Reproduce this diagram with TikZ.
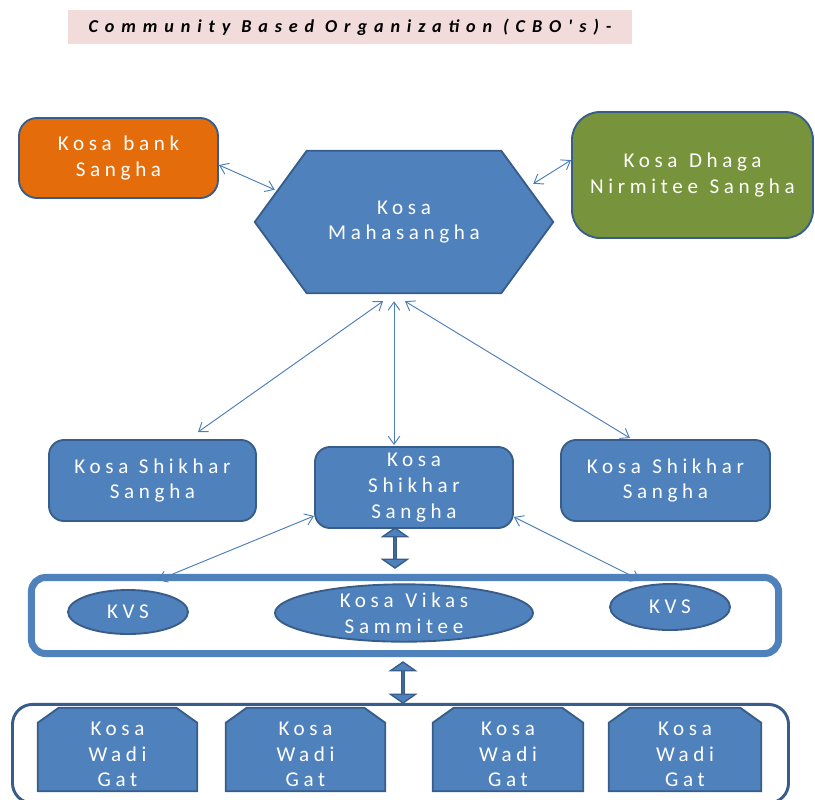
\documentclass[tikz,border=0pt]{standalone}
\usepackage{fontspec}
\setmainfont{Carlito}
\newfontfamily\boxfont[LetterSpace=22]{Carlito}
\newfontfamily\titlefont[LetterSpace=38]{Carlito Bold Italic}
\newcommand\boxstyle{\boxfont\fontsize{18}{22}\selectfont\spaceskip 0.55em\relax}
\newcommand\titlestyle{\titlefont\fontsize{15.5}{18}\selectfont}
\newcommand\wordgap{\hspace{0.6em}}
\usetikzlibrary{shapes.arrows,shapes.geometric,arrows.meta,calc,backgrounds}
\definecolor{cboblue}{HTML}{4F81BD}
\definecolor{cboedge}{HTML}{385D8A}
\definecolor{cboline}{HTML}{4A7EBB}
\definecolor{cboorange}{HTML}{E46C0A}
\definecolor{cbogreen}{HTML}{77933C}
\definecolor{cbopink}{HTML}{F2DCDB}

\begin{document}
\begin{tikzpicture}[x=0.03cm, y=-0.03cm,
    bluefill/.style={draw=cboedge, line width=1.6pt, fill=cboblue},
    boxtext/.style={text=white, align=center, inner sep=0pt, font=\boxstyle},
    box/.style={bluefill, boxtext},
    roundbox/.style={box, rectangle, rounded corners=0.45cm},
    kvs/.style={box, ellipse},
    wadi/.style={boxtext, minimum width=4.77cm, minimum height=2.49cm},
    link/.style={cboline, line width=0.8pt, {Straight Barb[length=7pt,width=10pt]}-{Straight Barb[length=7pt,width=10pt]}},
    bigarrow/.style={draw=cboedge, line width=1.2pt, fill=cboblue, double arrow, rotate=90, inner sep=0pt, minimum width=0.75cm, double arrow head extend=0.2cm, double arrow tip angle=110}]
    \useasboundingbox (0,0) rectangle (815,799);

    \node[fill=cbopink, minimum width=16.92cm, minimum height=1.02cm, inner sep=0pt, font=\titlestyle] (title) at (350,27) {Community\wordgap Based\wordgap Organization\wordgap (CBO's)-};

    \node[roundbox, fill=cboorange, minimum width=5.97cm, minimum height=2.4cm, rounded corners=0.54cm] (banksangha) at (118.5,158) {Kosa bank\\Sangha};
    \node[roundbox, fill=cbogreen, minimum width=7.23cm, minimum height=3.78cm, rounded corners=0.84cm] (dhagasangha) at (692.5,175) {Kosa Dhaga\\Nirmitee Sangha};
    \node[boxtext, minimum width=8.94cm, minimum height=4.26cm] (mahasangha) at (404,222) {Kosa\\Mahasangha};

    \node[roundbox, minimum width=6.21cm, minimum height=2.43cm] (shikharleft) at (152.5,480.5) {Kosa\enspace Shikhar\\Sangha};
    \node[roundbox, minimum width=5.94cm, minimum height=2.43cm] (shikharmid) at (414,487.5) {Kosa\\Shikhar\\Sangha};
    \node[roundbox, minimum width=6.27cm, minimum height=2.43cm] (shikharright) at (665.5,480.5) {Kosa Shikhar\\Sangha};

    \node[draw=cboblue, line width=6pt, rounded corners=0.42cm, minimum width=22.41cm, minimum height=2.28cm] (vikasband) at (405,615.5) {};
    \node[kvs, minimum width=3.6cm, minimum height=1.32cm] (kvsleft) at (128,612) {KVS};
    \node[kvs, minimum width=7.74cm, minimum height=1.68cm] (vikassammitee) at (404,613) {Kosa Vikas\\Sammitee};
    \node[kvs, minimum width=3.6cm, minimum height=1.38cm] (kvsright) at (670,607) {KVS};

    \node[draw=cboedge, line width=2.5pt, rounded corners=0.6cm, minimum width=23.28cm, minimum height=2.96cm] (gatband) at (400.5,753.75) {};
    \node[wadi] (gatone) at (117.5,754.5) {Kosa\\Wadi\\Gat};
    \node[wadi] (gattwo) at (305.5,754.5) {Kosa\\Wadi\\Gat};
    \node[wadi, minimum width=4.5cm] (gatthree) at (508,754.5) {Kosa\\Wadi\\Gat};
    \node[wadi, minimum width=4.56cm] (gatfour) at (685,754.5) {Kosa\\Wadi\\Gat};

    \begin{scope}[on background layer]
        \draw[bluefill] (mahasangha.west) -- ($(mahasangha.north west)+(52,0)$) -- ($(mahasangha.north east)+(-52,0)$) -- (mahasangha.east) -- ($(mahasangha.south east)+(-52,0)$) -- ($(mahasangha.south west)+(52,0)$) -- cycle;
        \foreach \gat in {gatone,gattwo,gatthree,gatfour}
            \draw[bluefill] ($(\gat.south west)+(0,-5)$) -- ($(\gat.north west)+(0,10)$) -- ($(\gat.north west)+(21,-5)$) -- ($(\gat.north east)+(-21,-5)$) -- ($(\gat.north east)+(0,10)$) -- ($(\gat.south east)+(0,-5)$) -- cycle;
    \end{scope}

    \node[bigarrow, minimum height=1.2cm] (shikharlink) at (395,548) {};
    \node[bigarrow, minimum height=1.23cm] (gatlink) at (403,682.5) {};

    \draw[link] (banksangha.-4) -- ($(mahasangha.north west)+(20,39)$);
    \draw[link] (dhagasangha.173) -- ($(mahasangha.north east)+(-20,33)$);
    \draw[link] ($(mahasangha.south)+(-21,8)$) -- ($(shikharleft.north)+(45.5,-7)$);
    \draw[link] ($(mahasangha.south)+(-10,8)$) -- ($(shikharmid.north)+(-20,-1)$);
    \draw[link] ($(mahasangha.south)+(1,8)$) -- ($(shikharright.north)+(-35.5,-1)$);
    \draw[link] ($(shikharmid.south west)+(0,-13)$) -- ($(kvsleft.north)+(30,-9)$);
    \draw[link] ($(shikharmid.south east)+(0,-12)$) -- ($(kvsright.north)+(-30,-3)$);
\end{tikzpicture}
\end{document}
